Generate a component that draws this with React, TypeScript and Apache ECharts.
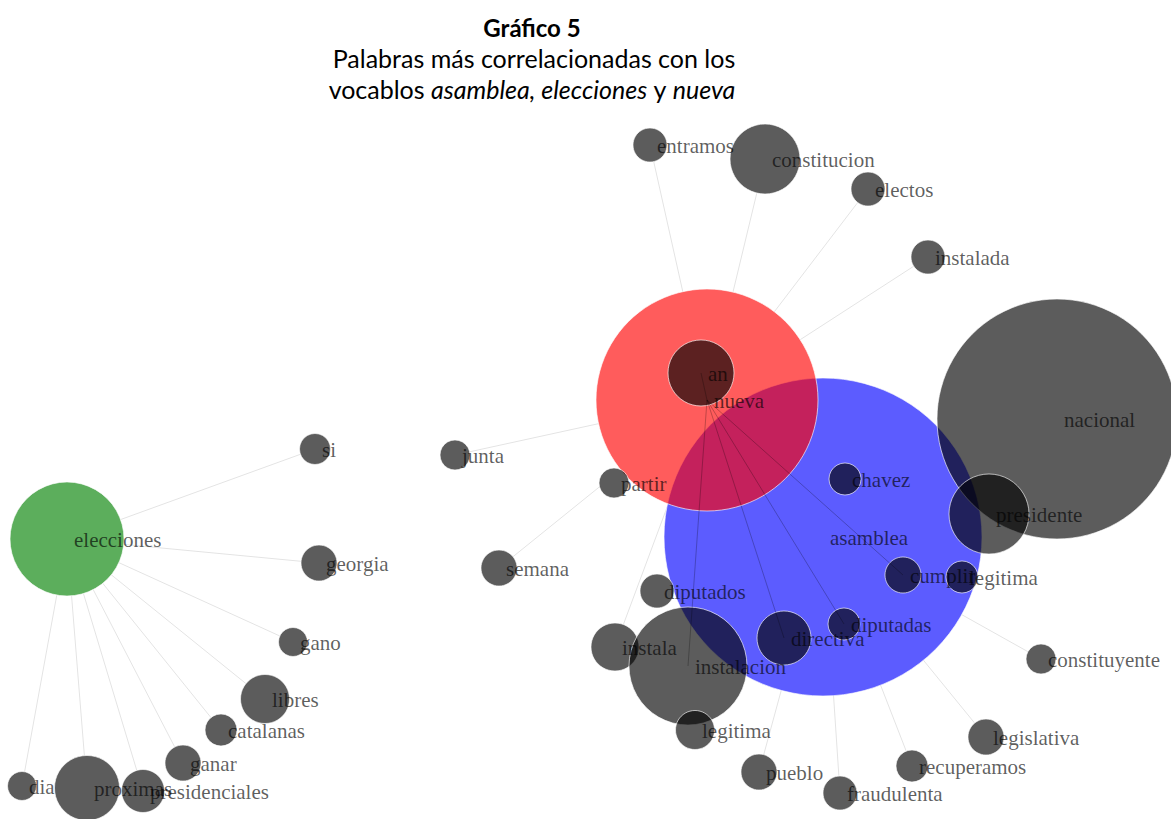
import React, { useEffect, useRef } from "react";
import * as echarts from "echarts";

// ---- Data: nodes of the word-correlation network (force-layout positions) ----
const nodeIds = [
  "elecciones", "asamblea", "nueva",
  "si", "georgia", "gano", "libres", "catalanas", "ganar", "presidenciales", "proximas", "dia",
  "junta", "semana", "partir", "an", "entramos", "constitucion", "electos", "instalada",
  "nacional", "chavez", "presidente", "cumplir", "legitima_r", "diputados", "instala",
  "instalacion", "directiva", "diputadas", "constituyente", "legitima_b", "pueblo",
  "fraudulenta", "recuperamos", "legislativa",
];
const nodeLabels = [
  "elecciones", "asamblea", "nueva",
  "si", "georgia", "gano", "libres", "catalanas", "ganar", "presidenciales", "proximas", "dia",
  "junta", "semana", "partir", "an", "entramos", "constitucion", "electos", "instalada",
  "nacional", "chavez", "presidente", "cumplir", "legitima", "diputados", "instala",
  "instalacion", "directiva", "diputadas", "constituyente", "legitima", "pueblo",
  "fraudulenta", "recuperamos", "legislativa",
];
const nodeX = [
  67, 823, 707,
  315, 319, 293, 265, 221, 183, 143, 87, 22,
  455, 499, 614, 701, 650, 765, 868, 928,
  1057, 845, 989, 903, 962, 657, 615,
  688, 784, 844, 1041, 695, 759,
  840, 912, 986,
];
const nodeY = [
  539, 537, 400,
  449, 563, 642, 699, 730, 763, 791, 788, 786,
  455, 568, 483, 373, 145, 159, 189, 257,
  419, 479, 514, 575, 577, 591, 647,
  666, 638, 624, 659, 730, 772,
  793, 766, 737,
];
const nodeWeight = [
  57, 159, 111,
  15.5, 18, 14.5, 24.5, 16, 18, 21.5, 32.5, 14.5,
  15, 18, 15, 33, 17, 35, 17, 17,
  120, 16, 40, 18, 16, 17, 24,
  59, 27, 16, 15, 19.5, 18,
  17, 16, 18,
];
const nodeGroup = [
  "elecciones", "asamblea", "nueva",
  "otro", "otro", "otro", "otro", "otro", "otro", "otro", "otro", "otro",
  "otro", "otro", "otro", "otro", "otro", "otro", "otro", "otro",
  "otro", "otro", "otro", "otro", "otro", "otro", "otro",
  "otro", "otro", "otro", "otro", "otro", "otro",
  "otro", "otro", "otro",
];

// ---- Links ----
const linkSource = [
  "elecciones", "elecciones", "elecciones", "elecciones", "elecciones", "elecciones", "elecciones", "elecciones", "elecciones",
  "nueva", "nueva", "nueva", "nueva", "nueva", "nueva", "nueva", "nueva", "nueva",
  "asamblea", "asamblea", "asamblea", "asamblea", "asamblea", "asamblea", "asamblea", "asamblea",
  "asamblea", "asamblea", "asamblea", "asamblea",
];
const linkTarget = [
  "si", "georgia", "gano", "libres", "catalanas", "ganar", "presidenciales", "proximas", "dia",
  "entramos", "constitucion", "electos", "instalada", "junta", "semana", "partir", "an", "instala",
  "nacional", "presidente", "legitima_r", "constituyente", "legislativa", "recuperamos", "fraudulenta", "pueblo",
  "legitima_b", "diputados", "instala", "chavez",
];
// links whose strokes show through the coloured circles
const innerSource = ["nueva", "nueva", "nueva", "nueva", "an"];
const innerTarget = ["instalacion", "directiva", "diputadas", "cumplir", "nueva"];

const groupColor: Record<string, string> = {
  elecciones: "#008000",
  asamblea: "#0000ff",
  nueva: "#ff0000",
  otro: "#000000",
};

const titleMain = "Gráfico 5";
const titleLine2 = "Palabras más correlacionadas con los";
const titleLine3 = "{n|vocablos }{i|asamblea, elecciones}{n| y }{i|nueva}";

export default function App() {
  const ref = useRef<HTMLDivElement>(null);
  useEffect(() => {
    document.body.style.margin = "0";
    document.body.style.overflow = "hidden";
    if (!ref.current) return;
    const chart = echarts.init(ref.current, undefined, { renderer: "svg" });
    const idx = (id: string) => nodeIds.indexOf(id);
    const pt = (id: string) => [nodeX[idx(id)], nodeY[idx(id)]];
    const nodeData = nodeIds.map((id, i) => ({
      name: nodeLabels[i],
      value: [nodeX[i], nodeY[i]],
      symbolSize: nodeWeight[i] * 2,
      itemStyle: { color: groupColor[nodeGroup[i]] },
    }));
    const underData = nodeIds.map((id, i) => ({
      name: nodeLabels[i],
      value: [nodeX[i], nodeY[i]],
      symbolSize: nodeWeight[i] * 2,
    }));
    const linkData = linkSource.map((s, i) => ({ coords: [pt(s), pt(linkTarget[i])] }));
    const innerData = innerSource.map((s, i) => ({ coords: [pt(s), pt(innerTarget[i])] }));
    const serif = '"Liberation Serif", "DejaVu Serif", serif';
    const sans = 'Lato, "Open Sans", sans-serif';
    chart.setOption({
      animation: false,
      backgroundColor: "#ffffff",
      grid: { left: 0, right: 0, top: 0, bottom: 0 },
      xAxis: { type: "value", min: 0, max: 1171, show: false },
      yAxis: { type: "value", min: 0, max: 819, inverse: true, show: false },
      graphic: [
        {
          type: "text", x: 532, y: 27, z: 100,
          style: { text: titleMain, fill: "#000", font: `bold 24px ${sans}`, align: "center", verticalAlign: "middle" },
        },
        {
          type: "text", x: 534, y: 58, z: 100,
          style: { text: titleLine2, fill: "#000", font: `25px ${sans}`, align: "center", verticalAlign: "middle" },
        },
        {
          type: "text", x: 532, y: 89, z: 100,
          style: {
            text: titleLine3, fill: "#000", font: `25px ${sans}`, align: "center", verticalAlign: "middle",
            rich: {
              n: { fontFamily: sans, fontSize: 25, fill: "#000" },
              i: { fontFamily: sans, fontSize: 25, fontStyle: "italic", fill: "#000" },
            },
          },
        },
      ],
      series: [
        {
          type: "lines",
          coordinateSystem: "cartesian2d",
          z: 1,
          silent: true,
          lineStyle: { color: "rgba(0,0,0,0.11)", width: 1, opacity: 1 },
          data: linkData,
        },
        {
          type: "scatter",
          z: 2,
          silent: true,
          data: underData,
          itemStyle: { color: "#ffffff", opacity: 1 },
          label: { show: false },
        },
        {
          type: "scatter",
          z: 3,
          silent: true,
          data: nodeData,
          itemStyle: { opacity: 0.64, borderColor: "#ffffff", borderWidth: 1 },
          label: { show: false },
        },
        {
          type: "lines",
          coordinateSystem: "cartesian2d",
          z: 4,
          silent: true,
          lineStyle: { color: "rgba(0,0,0,0.25)", width: 1, opacity: 1 },
          data: innerData,
        },
        {
          type: "scatter",
          z: 5,
          silent: true,
          symbolSize: 1,
          itemStyle: { color: "rgba(0,0,0,0)" },
          data: nodeIds.map((id, i) => ({ name: nodeLabels[i], value: [nodeX[i], nodeY[i]] })),
          label: {
            show: true,
            formatter: "{b}",
            position: "inside",
            align: "left",
            verticalAlign: "middle",
            offset: [7, 1],
            fontFamily: serif,
            fontSize: 21,
            color: "rgba(0,0,0,0.8)",
          },
        },
      ],
    });
    return () => chart.dispose();
  }, []);
  return <div ref={ref} style={{ width: 1171, height: 819 }} />;
}
